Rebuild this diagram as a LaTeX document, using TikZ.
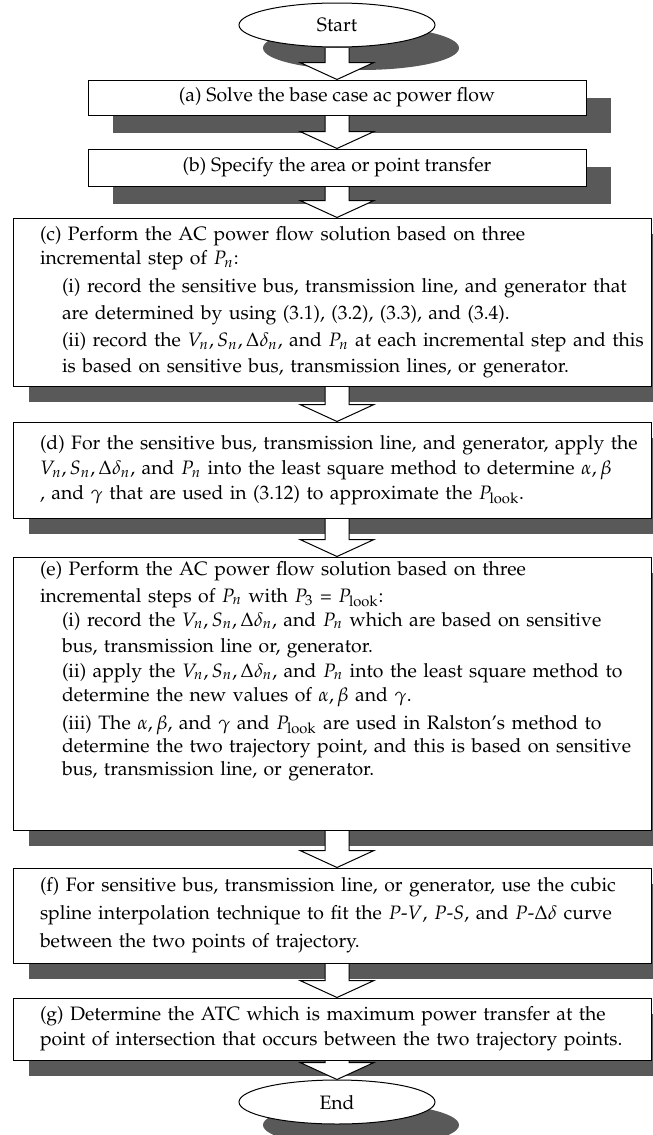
\documentclass[tikz,border=0pt]{standalone}
\usepackage[T1]{fontenc}
\usepackage{mathpazo}
\usetikzlibrary{shapes.geometric,shadows,calc}

\definecolor{shadowgray}{RGB}{89,89,89}

\tikzset{
  boxbase/.style={draw, line width=0.5pt, fill=white, inner sep=0pt,
    font=\fontsize{9.7pt}{12.5pt}\selectfont},
  terminal/.style={boxbase, ellipse, minimum width=98pt, minimum height=22pt,
    drop shadow={shadow xshift=12pt, shadow yshift=-11.5pt, fill=shadowgray, opacity=1}},
  narrowbox/.style={boxbase, rectangle, minimum width=249pt, align=center,
    drop shadow={shadow xshift=12.5pt, shadow yshift=-9pt, fill=shadowgray, opacity=1}},
  widebox/.style={boxbase, rectangle, text width=292pt, inner xsep=13.5pt, align=left,
    drop shadow={shadow xshift=8pt, shadow yshift=-8pt, fill=shadowgray, opacity=1}},
  flowarrow/.style={draw=black, line width=0.5pt, line join=miter}
}

% one line of a box, and one indented line
\newcommand{\tline}[1]{\mbox{#1}}
\newcommand{\sline}[1]{\hspace*{11pt}\mbox{#1}}

% hollow block arrow from the bottom of #1 to the top of #2, on the axis of start
\newcommand{\flowstep}[2]{%
  \fill[white] let \p1=(#1.south), \p2=(#2.north), \p0=(start.south) in
    (\x0-6pt,\y1-0.3pt) -- (\x0-6pt,\y2+8.5pt) -- (\x0-18.5pt,\y2+8.5pt) -- (\x0,\y2)
    -- (\x0+18.5pt,\y2+8.5pt) -- (\x0+6pt,\y2+8.5pt) -- (\x0+6pt,\y1-0.3pt) -- cycle;
  \draw[flowarrow] let \p1=(#1.south), \p2=(#2.north), \p0=(start.south) in
    (\x0-6pt,\y1-0.3pt) -- (\x0-6pt,\y2+8.5pt) -- (\x0-18.5pt,\y2+8.5pt) -- (\x0,\y2)
    -- (\x0+18.5pt,\y2+8.5pt) -- (\x0+6pt,\y2+8.5pt) -- (\x0+6pt,\y1-0.3pt);
}

\begin{document}
\begin{tikzpicture}[x=0.5pt,y=-0.5pt]
  \useasboundingbox (0,0) rectangle (653,1135);
  \clip (0,0) rectangle (653,1135);

  \node[terminal] (start) at (337,25) {Start};
  \node[narrowbox, minimum height=17.5pt] (solve) at (337,97.5)
    {(a) Solve the base case ac power flow};
  \node[narrowbox, minimum height=18.5pt] (specify) at (337,167.5)
    {(b) Specify the area or point transfer};

  \node[widebox, minimum height=84pt, font=\fontsize{9.7pt}{12pt}\selectfont] (record) at (332,302)
    {\tline{(c) Perform the AC power flow solution based on three}\\
     \tline{incremental step of $P_n$:}\\[2pt]
     \sline{(i) record the sensitive bus, transmission line, and generator that}\\[1.5pt]
     \sline{are determined by using (3.1), (3.2), (3.3), and (3.4).}\\[1.5pt]
     \sline{(ii) record the $V_n, S_n, \Delta\delta_n$, and $P_n$ at each incremental step and this}\\[1pt]
     \sline{is based on sensitive bus, transmission lines, or generator.}};

  \node[widebox, minimum height=48pt] (fit) at (332,470)
    {\tline{(d) For the sensitive bus, transmission line, and generator, apply the}\\
     \tline{$V_n, S_n, \Delta\delta_n$, and $P_n$ into the least square method to determine $\alpha, \beta$}\\
     \tline{, and $\gamma$ that are used in (3.12) to approximate the $P_{\mathrm{look}}$.}};

  \node[widebox, minimum height=136.5pt, font=\fontsize{9.7pt}{11.5pt}\selectfont] (ralston) at (332,693.5)
    {\tline{(e) Perform the AC power flow solution based on three}\\[2pt]
     \tline{incremental steps of $P_n$ with $P_3$ = $P_{\mathrm{look}}$:}\\[0.5pt]
     \sline{(i) record the $V_n, S_n, \Delta\delta_n$, and $P_n$ which are based on sensitive}\\[1.5pt]
     \sline{bus, transmission line or, generator.}\\[1pt]
     \sline{(ii) apply the $V_n, S_n, \Delta\delta_n$, and $P_n$ into the least square method to}\\[0.8pt]
     \sline{determine the new values of $\alpha, \beta$ and $\gamma$.}\\[2.2pt]
     \sline{(iii) The $\alpha, \beta$, and $\gamma$ and $P_{\mathrm{look}}$ are used in Ralston's method to}\\
     \sline{determine the two trajectory point, and this is based on sensitive}\\
     \sline{bus, transmission line, or generator.}\\[14pt]
     \mbox{}};

  \node[widebox, minimum height=47.5pt, font=\fontsize{9.7pt}{14pt}\selectfont] (spline) at (332,915.5)
    {\tline{(f) For sensitive bus, transmission line, or generator, use the cubic}\\
     \tline{spline interpolation technique to fit the $P$-$V$, $P$-$S$, and $P$-$\Delta\delta$ curve}\\
     \tline{between the two points of trajectory.}};

  \node[widebox, minimum height=31pt] (atc) at (332,1029)
    {\tline{(g) Determine the ATC which is maximum power transfer at the}\\
     \tline{point of intersection that occurs between the two trajectory points.}};

  \node[terminal] (stop) at (337,1102) {End};

  \flowstep{start}{solve}
  \flowstep{solve}{specify}
  \flowstep{specify}{record}
  \flowstep{record}{fit}
  \flowstep{fit}{ralston}
  \flowstep{ralston}{spline}
  \flowstep{spline}{atc}
  \flowstep{atc}{stop}
\end{tikzpicture}
\end{document}
